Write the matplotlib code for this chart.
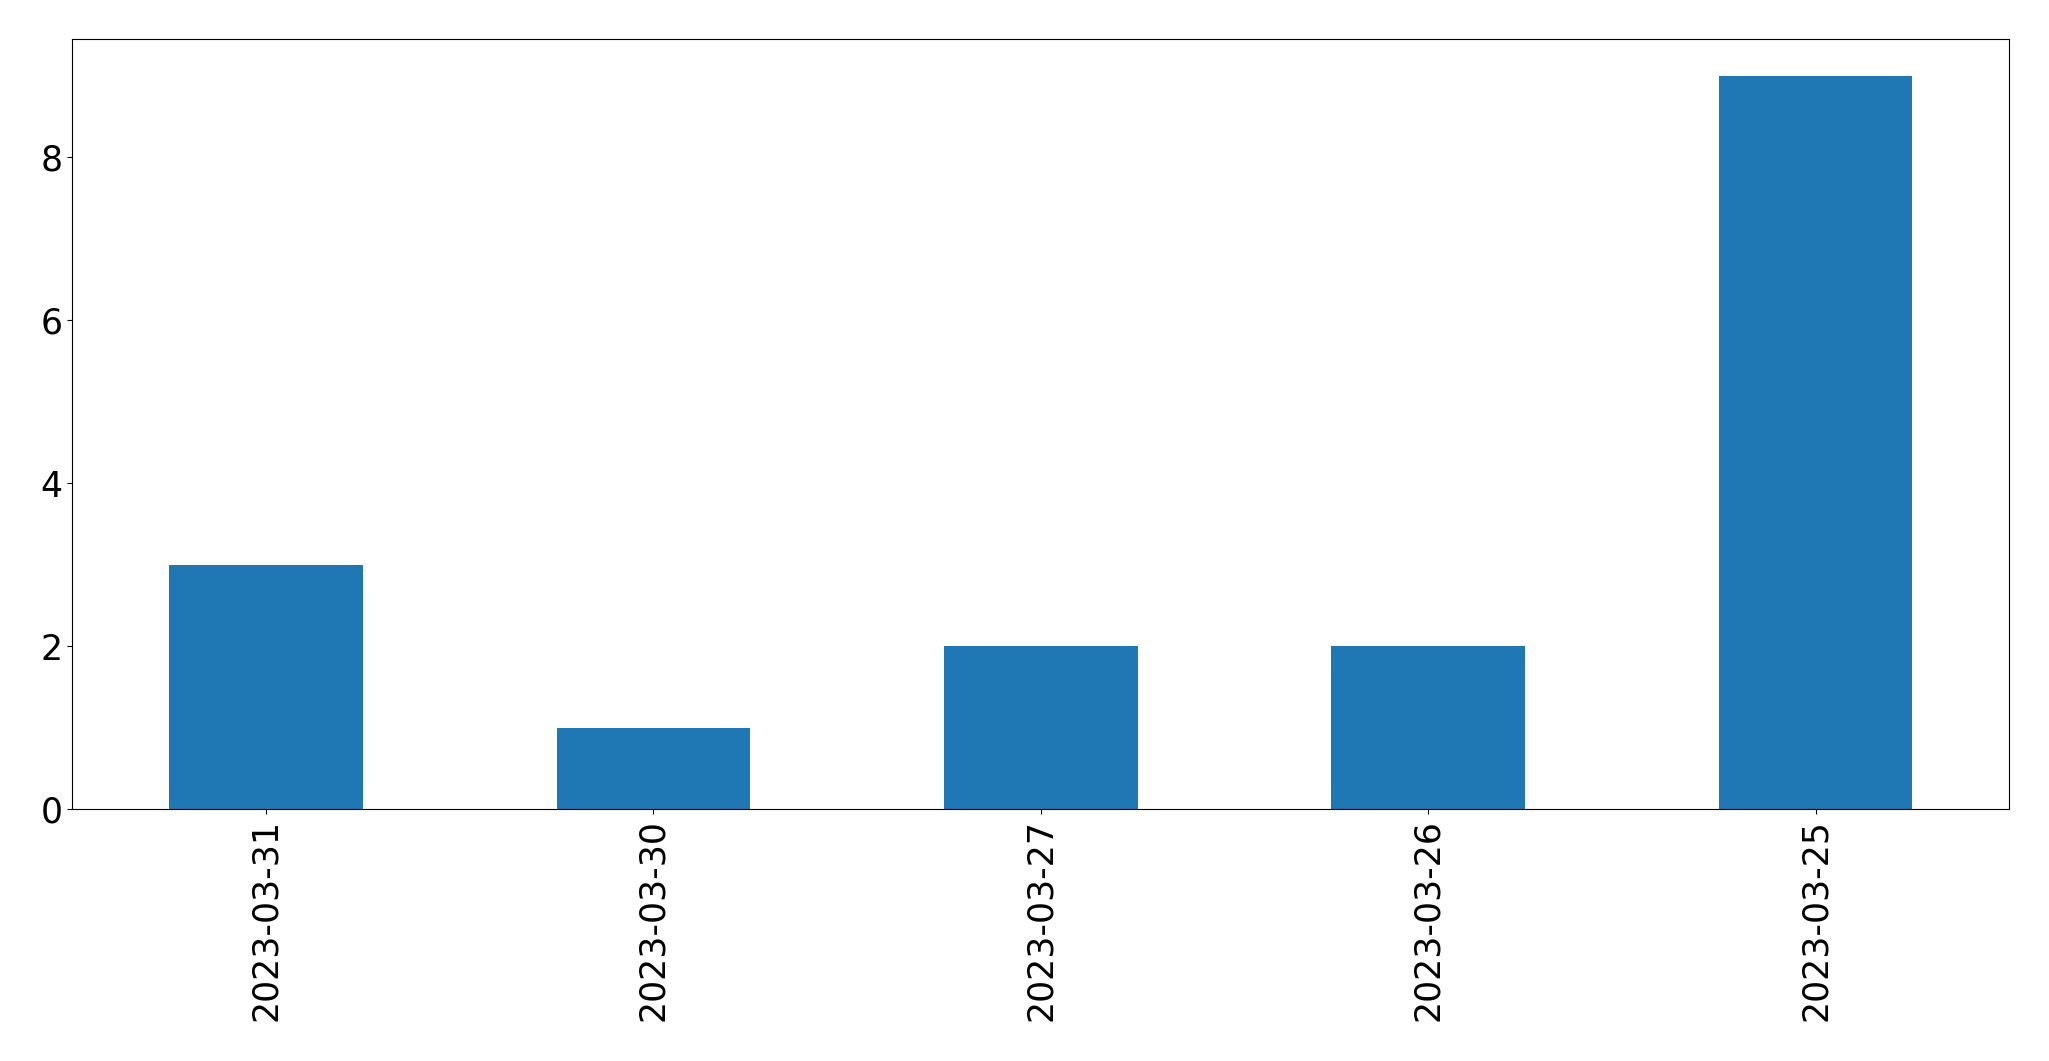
import matplotlib
matplotlib.use("Agg")
import matplotlib.pyplot as plt

dates = ["2023-03-31", "2023-03-30", "2023-03-27", "2023-03-26", "2023-03-25"]
counts = [3, 1, 2, 2, 9]

fig = plt.figure(figsize=(20.49, 10.61), dpi=100)
ax = fig.add_axes([72.3 / 2049, 1 - 809 / 1061, (2009.3 - 72.3) / 2049, (809 - 39) / 1061])
x = list(range(len(dates)))
ax.bar(x, counts, width=0.5, color="#1f77b4")
ax.set_xlim(-0.5, len(dates) - 0.5)
ax.set_ylim(0, max(counts) * 1.05)
ax.set_xticks(x)
ax.set_xticklabels(dates, rotation=90)
ax.tick_params(axis="both", labelsize=25)
fig.savefig("out.png", dpi=100)
